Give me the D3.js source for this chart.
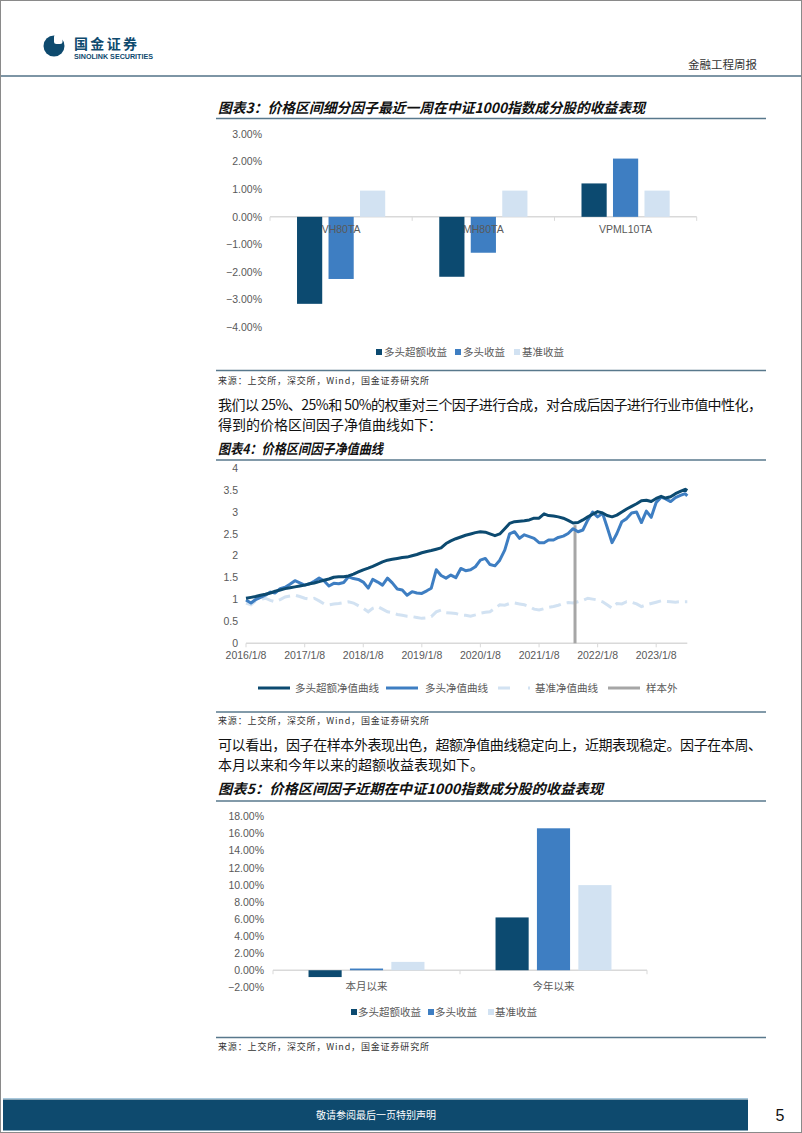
<!DOCTYPE html>
<html><head><meta charset="utf-8">
<script src="https://cdn.jsdelivr.net/npm/d3@7"></script>
<style>
body{margin:0;background:#fff}
svg{display:block}
text{font-family:"Liberation Sans","Noto Sans CJK SC",sans-serif}
.cjk{font-family:"Noto Sans CJK SC",sans-serif}
</style></head>
<body><svg id="page" width="802" height="1133"></svg>
<script>
// ---------- DATA ----------
const weeklyCats = ["VH80TA", "MH80TA", "VPML10TA"];
const seriesNames = ["多头超额收益", "多头收益", "基准收益"];
const weeklyExcess = [-3.15, -2.17, 1.21];
const weeklyLong = [-2.25, -1.30, 2.11];
const weeklyBench = [0.95, 0.95, 0.95];
const weeklyTicks = [3, 2, 1, 0, -1, -2, -3, -4];

const navDates = [
 "2016-01-08","2016-02-08","2016-03-08","2016-04-08","2016-05-08","2016-06-08","2016-07-08","2016-08-08","2016-09-08","2016-10-08","2016-11-08","2016-12-08",
 "2017-01-08","2017-02-08","2017-03-08","2017-04-08","2017-05-08","2017-06-08","2017-07-08","2017-08-08","2017-09-08","2017-10-08","2017-11-08","2017-12-08",
 "2018-01-08","2018-02-08","2018-03-08","2018-04-08","2018-05-08","2018-06-08","2018-07-08","2018-08-08","2018-09-08","2018-10-08","2018-11-08","2018-12-08",
 "2019-01-08","2019-02-08","2019-03-08","2019-04-08","2019-05-08","2019-06-08","2019-07-08","2019-08-08","2019-09-08","2019-10-08","2019-11-08","2019-12-08",
 "2020-01-08","2020-02-08","2020-03-08","2020-04-08","2020-05-08","2020-06-08","2020-07-08","2020-08-08","2020-09-08","2020-10-08","2020-11-08","2020-12-08",
 "2021-01-08","2021-02-08","2021-03-08","2021-04-08","2021-05-08","2021-06-08","2021-07-08","2021-08-08","2021-09-08","2021-10-08","2021-11-08","2021-12-08",
 "2022-01-08","2022-02-08","2022-03-08","2022-04-08","2022-05-08","2022-06-08","2022-07-08","2022-08-08","2022-09-08","2022-10-08","2022-11-08","2022-12-08",
 "2023-01-08","2023-02-08","2023-03-08","2023-04-08","2023-05-08","2023-06-08","2023-07-08","2023-07-21"];
const navExcess = [
 1.03,1.05,1.07,1.10,1.12,1.15,1.19,1.22,1.25,1.27,1.29,1.31,
 1.33,1.36,1.38,1.41,1.44,1.47,1.51,1.52,1.52,1.54,1.58,1.63,
 1.68,1.72,1.76,1.81,1.86,1.90,1.92,1.94,1.96,1.97,2.00,2.03,
 2.07,2.10,2.12,2.15,2.18,2.28,2.34,2.39,2.43,2.47,2.50,2.53,
 2.55,2.54,2.50,2.46,2.50,2.62,2.74,2.78,2.79,2.80,2.82,2.86,
 2.86,2.96,2.92,2.91,2.89,2.86,2.81,2.75,2.76,2.82,2.89,2.95,
 3.01,2.98,2.92,2.89,2.93,3.00,3.07,3.13,3.19,3.26,3.27,3.24,
 3.31,3.36,3.32,3.35,3.42,3.47,3.52,3.49];
const navLong = [
 0.99,0.92,1.00,1.05,1.10,1.17,1.15,1.25,1.28,1.35,1.43,1.38,
 1.33,1.36,1.42,1.49,1.43,1.31,1.37,1.36,1.39,1.52,1.48,1.46,
 1.40,1.26,1.46,1.40,1.33,1.49,1.38,1.24,1.22,1.10,1.18,1.15,
 1.14,1.20,1.26,1.68,1.55,1.49,1.56,1.50,1.71,1.66,1.68,1.75,
 1.90,1.94,1.80,1.77,1.90,2.13,2.50,2.55,2.40,2.48,2.44,2.40,
 2.30,2.30,2.36,2.36,2.42,2.45,2.51,2.62,2.55,2.59,2.82,3.00,
 2.89,2.97,2.66,2.30,2.51,2.78,2.85,2.98,3.00,2.76,3.02,2.88,
 3.22,3.34,3.30,3.24,3.33,3.38,3.42,3.37];
const navBench = [
 0.92,0.88,0.97,1.00,1.03,0.98,0.95,1.00,1.06,1.08,1.10,1.07,
 1.03,1.01,1.03,0.97,0.90,0.88,0.90,0.91,0.93,0.95,0.92,0.86,
 0.80,0.72,0.80,0.84,0.78,0.72,0.70,0.66,0.64,0.62,0.61,0.59,
 0.57,0.58,0.61,0.72,0.76,0.70,0.69,0.68,0.65,0.64,0.62,0.65,
 0.69,0.71,0.72,0.80,0.88,0.87,0.91,0.92,0.90,0.88,0.84,0.78,
 0.76,0.79,0.82,0.84,0.87,0.91,0.93,0.92,0.95,0.98,1.03,1.01,
 0.99,0.95,0.88,0.80,0.91,0.90,0.95,0.94,0.90,0.84,0.88,0.91,
 0.94,0.97,0.96,0.95,0.94,0.95,0.95,0.95];
const navSeriesNames = ["多头超额净值曲线", "多头净值曲线", "基准净值曲线", "样本外"];
const navYTicks = [0, 0.5, 1, 1.5, 2, 2.5, 3, 3.5, 4];
const navXTicks = ["2016-01-08","2017-01-08","2018-01-08","2019-01-08","2020-01-08","2021-01-08","2022-01-08","2023-01-08"];
const navXTickLabels = ["2016/1/8","2017/1/8","2018/1/8","2019/1/8","2020/1/8","2021/1/8","2022/1/8","2023/1/8"];
const sampleOutDate = "2021-08-20";
const sampleOutTop = 2.70;

const recentCats = ["本月以来", "今年以来"];
const recentExcess = [-0.80, 6.19];
const recentLong = [0.20, 16.64];
const recentBench = [0.98, 9.98];
const recentTicks = [18, 16, 14, 12, 10, 8, 6, 4, 2, 0, -2];

// ---------- STYLE ----------
const C_DARK = "#0c4a70", C_MID = "#3e7ec2", C_LIGHT = "#d2e2f2", C_GRAY = "#a6a6a6";
const C_RULE = "#58788c", C_TICK = "#595959";
const seriesColors = [C_DARK, C_MID, C_LIGHT];

const svg = d3.select("#page");
const parse = d3.timeParse("%Y-%m-%d");

// page frame
svg.append("rect").attr("x",0.5).attr("y",0.5).attr("width",801).attr("height",1132)
  .attr("fill","none").attr("stroke","#8a8a8a").attr("stroke-width",1);

// header
svg.append("line").attr("x1",1).attr("x2",801).attr("y1",76).attr("y2",76).attr("stroke","#7d95a5").attr("stroke-width",2);
const logo = svg.append("g");
logo.append("circle").attr("cx",54).attr("cy",46).attr("r",10.5).attr("fill","#0e4a6e");
logo.append("rect").attr("x",54).attr("y",34.5).attr("width",8.5).attr("height",9.5).attr("rx",2.5).attr("fill","#fff");
logo.append("text").attr("class","cjk").attr("x",74).attr("y",48.5).attr("font-size",14).attr("font-weight",700)
  .attr("fill","#0e4a6e").attr("textLength",63).text("国金证券");
logo.append("text").attr("x",74).attr("y",58.5).attr("font-size",6.4).attr("font-weight",700)
  .attr("fill","#0e4a6e").attr("textLength",79).attr("lengthAdjust","spacingAndGlyphs").text("SINOLINK SECURITIES");
svg.append("text").attr("class","cjk").attr("x",757).attr("y",65).attr("dy","0.35em").attr("text-anchor","end")
  .attr("font-size",11.5).attr("fill","#333").text("金融工程周报");

// helpers
function title(txt, y, len){
  svg.append("text").attr("class","cjk").attr("x",218).attr("y",y).attr("dy","0.36em")
    .attr("font-size",14).attr("font-weight",700).attr("font-style","italic").attr("fill","#111")
    .attr("textLength",len).attr("lengthAdjust","spacingAndGlyphs").text(txt);
}
function rule(y){
  svg.append("line").attr("x1",216).attr("x2",766).attr("y1",y).attr("y2",y).attr("stroke",C_RULE).attr("stroke-width",1.6);
}
function source(y){
  svg.append("text").attr("class","cjk").attr("x",218).attr("y",y).attr("dy","0.35em")
    .attr("font-size",9).attr("fill","#333").attr("textLength",211).text("来源：上交所，深交所，Wind，国金证券研究所");
}
function para(txt, y, len){
  const t = svg.append("text").attr("class","cjk").attr("x",218).attr("y",y).attr("dy","0.36em")
    .attr("font-size",14).attr("fill","#111").text(txt);
  if (len) t.attr("textLength",len).attr("lengthAdjust","spacing");
}

// ---------- CHART 3 ----------
title("图表3：价格区间细分因子最近一周在中证1000指数成分股的收益表现", 108, 427);
rule(118.5);
{
  const x0 = d3.scaleBand().domain(weeklyCats).range([270, 696.7]);
  const bw = x0.bandwidth();
  const x1 = d3.scaleBand().domain(seriesNames).range([bw*0.19, bw*0.81]).paddingInner(0.2);
  const y = d3.scaleLinear().domain([-4, 3]).range([327.3, 134]);
  const g = svg.append("g");
  g.selectAll("text.yt").data(weeklyTicks).join("text").attr("class","yt")
    .attr("x",262).attr("y",d=>y(d)).attr("dy","0.35em").attr("text-anchor","end")
    .attr("font-size",10.5).attr("fill",C_TICK).text(d=>d3.format(".2f")(d)+"%");
  g.append("line").attr("x1",270).attr("x2",696.7).attr("y1",y(0)).attr("y2",y(0)).attr("stroke","#d9d9d9").attr("stroke-width",1.5);
  g.selectAll("line.ct").data([270, 412.2, 554.5, 696.7]).join("line").attr("class","ct")
    .attr("x1",d=>d).attr("x2",d=>d).attr("y1",y(0)).attr("y2",y(0)+4).attr("stroke","#d9d9d9");
  const vals = [weeklyExcess, weeklyLong, weeklyBench];
  weeklyCats.forEach((c, i) => {
    seriesNames.forEach((s, j) => {
      const v = vals[j][i];
      g.append("rect").attr("x", x0(c)+x1(s)).attr("width", x1.bandwidth())
        .attr("y", y(Math.max(0,v))).attr("height", Math.abs(y(v)-y(0))).attr("fill", seriesColors[j]);
    });
  });
  g.selectAll("text.cat").data(weeklyCats).join("text").attr("class","cat")
    .attr("x",d=>x0(d)+bw/2).attr("y",229.5).attr("dy","0.35em").attr("text-anchor","middle")
    .attr("font-size",10.5).attr("fill",C_TICK).text(d=>d);
  const lx = [376, 455, 514];
  seriesNames.forEach((s,j)=>{
    g.append("rect").attr("x",lx[j]).attr("y",349).attr("width",6).attr("height",6).attr("fill",seriesColors[j]);
    g.append("text").attr("x",lx[j]+8).attr("y",352).attr("dy","0.35em").attr("font-size",10.5).attr("fill",C_TICK).text(s);
  });
}
rule(370.5);
source(381);

para("我们以 25%、25%和 50%的权重对三个因子进行合成，对合成后因子进行行业市值中性化，", 405, 544);
para("得到的价格区间因子净值曲线如下：", 425);

// ---------- CHART 4 ----------
title("图表4：价格区间因子净值曲线", 449, 165);
rule(460);
{
  const x = d3.scaleTime().domain([parse("2016-01-08"), parse("2023-07-21")]).range([246, 687.3]);
  const y = d3.scaleLinear().domain([0, 4]).range([643.3, 468.3]);
  const g = svg.append("g");
  g.selectAll("text.yt").data(navYTicks).join("text").attr("class","yt")
    .attr("x",238).attr("y",d=>y(d)).attr("dy","0.35em").attr("text-anchor","end")
    .attr("font-size",10.5).attr("fill",C_TICK).text(d=>d3.format("")(d));
  g.append("line").attr("x1",246).attr("x2",687.3).attr("y1",y(0)).attr("y2",y(0)).attr("stroke","#d9d9d9").attr("stroke-width",1.5);
  g.selectAll("line.xt").data(navXTicks).join("line").attr("class","xt")
    .attr("x1",d=>x(parse(d))).attr("x2",d=>x(parse(d))).attr("y1",y(0)).attr("y2",y(0)+4).attr("stroke","#d9d9d9");
  g.selectAll("text.xl").data(navXTicks).join("text").attr("class","xl")
    .attr("x",d=>x(parse(d))).attr("y",655.5).attr("dy","0.35em").attr("text-anchor","middle")
    .attr("font-size",10.5).attr("fill",C_TICK).text((d,i)=>navXTickLabels[i]);
  const dates = navDates.map(parse);
  const line = d3.line().x((d,i)=>x(dates[i])).y(d=>y(d));
  g.append("path").attr("d",line(navBench)).attr("fill","none").attr("stroke",C_LIGHT).attr("stroke-width",3)
    .attr("stroke-dasharray","12,6");
  g.append("line").attr("x1",x(parse(sampleOutDate))).attr("x2",x(parse(sampleOutDate)))
    .attr("y1",y(0)).attr("y2",y(sampleOutTop)).attr("stroke",C_GRAY).attr("stroke-width",3);
  g.append("path").attr("d",line(navLong)).attr("fill","none").attr("stroke",C_MID).attr("stroke-width",3).attr("stroke-linejoin","round");
  g.append("path").attr("d",line(navExcess)).attr("fill","none").attr("stroke",C_DARK).attr("stroke-width",3).attr("stroke-linejoin","round");
  const lg = [[258,290,295,C_DARK,null],[386,418,425,C_MID,null],[498,530,535,C_LIGHT,"12,18"],[608,640,646,C_GRAY,null]];
  lg.forEach((L,i)=>{
    const l = g.append("line").attr("x1",L[0]).attr("x2",L[1]).attr("y1",688).attr("y2",688).attr("stroke",L[3]).attr("stroke-width",3);
    if (L[4]) l.attr("stroke-dasharray",L[4]);
    g.append("text").attr("x",L[2]).attr("y",688).attr("dy","0.35em").attr("font-size",10.5).attr("fill",C_TICK).text(navSeriesNames[i]);
  });
}
rule(712);
source(720.5);

para("可以看出，因子在样本外表现出色，超额净值曲线稳定向上，近期表现稳定。因子在本周、", 745, 544);
para("本月以来和今年以来的超额收益表现如下。", 765);

// ---------- CHART 5 ----------
title("图表5：价格区间因子近期在中证1000指数成分股的收益表现", 789, 385);
rule(801);
{
  const x0 = d3.scaleBand().domain(recentCats).range([273, 647]);
  const bw = x0.bandwidth();
  const x1 = d3.scaleBand().domain(seriesNames).range([bw*0.19, bw*0.81]).paddingInner(0.2);
  const y = d3.scaleLinear().domain([-2, 18]).range([987.3, 816.7]);
  const g = svg.append("g");
  g.selectAll("text.yt").data(recentTicks).join("text").attr("class","yt")
    .attr("x",264).attr("y",d=>y(d)).attr("dy","0.35em").attr("text-anchor","end")
    .attr("font-size",10.5).attr("fill",C_TICK).text(d=>d3.format(".2f")(d)+"%");
  g.append("line").attr("x1",273).attr("x2",647).attr("y1",y(0)).attr("y2",y(0)).attr("stroke","#d9d9d9").attr("stroke-width",1.5);
  g.selectAll("line.ct").data([273, 460, 647]).join("line").attr("class","ct")
    .attr("x1",d=>d).attr("x2",d=>d).attr("y1",y(0)).attr("y2",y(0)+4).attr("stroke","#d9d9d9");
  const vals = [recentExcess, recentLong, recentBench];
  recentCats.forEach((c,i)=>{
    seriesNames.forEach((s,j)=>{
      const v = vals[j][i];
      g.append("rect").attr("x", x0(c)+x1(s)).attr("width", x1.bandwidth())
        .attr("y", y(Math.max(0,v))).attr("height", Math.abs(y(v)-y(0))).attr("fill", seriesColors[j]);
    });
  });
  g.selectAll("text.cat").data(recentCats).join("text").attr("class","cat")
    .attr("x",d=>x0(d)+bw/2).attr("y",986.5).attr("dy","0.35em").attr("text-anchor","middle")
    .attr("font-size",10.5).attr("fill",C_TICK).text(d=>d);
  const lx = [351, 428, 488];
  seriesNames.forEach((s,j)=>{
    g.append("rect").attr("x",lx[j]).attr("y",1009).attr("width",6).attr("height",6).attr("fill",seriesColors[j]);
    g.append("text").attr("x",lx[j]+7).attr("y",1012).attr("dy","0.35em").attr("font-size",10.5).attr("fill",C_TICK).text(s);
  });
}
rule(1037.5);
source(1047);

// ---------- FOOTER ----------
svg.append("line").attr("x1",3).attr("x2",748).attr("y1",1098.5).attr("y2",1098.5).attr("stroke","#a9c8dc").attr("stroke-width",1);
svg.append("rect").attr("x",3).attr("y",1099.5).attr("width",745).attr("height",31).attr("fill","#0e4a6e");
svg.append("text").attr("class","cjk").attr("x",376).attr("y",1115).attr("dy","0.35em").attr("text-anchor","middle")
  .attr("font-size",10).attr("fill","#fff").text("敬请参阅最后一页特别声明");
svg.append("text").attr("x",780).attr("y",1115).attr("dy","0.36em").attr("text-anchor","middle")
  .attr("font-size",16).attr("fill","#111").text("5");
</script></body></html>
